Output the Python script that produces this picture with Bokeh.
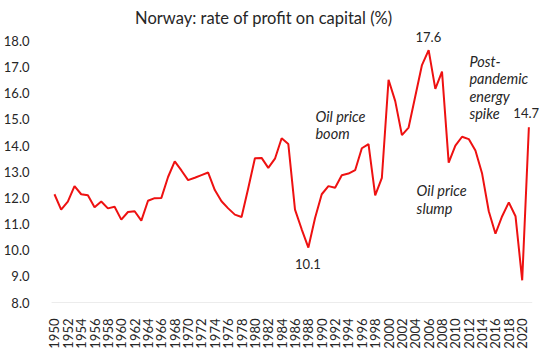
import math
from bokeh.plotting import figure
from bokeh.models import Range1d, FixedTicker, Label, PrintfTickFormatter
from bokeh.embed import file_html
from bokeh.resources import INLINE

years = list(range(1950, 2022))
profit_rate = [
    12.14, 11.55, 11.86, 12.45, 12.14, 12.10, 11.64, 11.86, 11.60, 11.66,
    11.17, 11.46, 11.49, 11.13, 11.89, 11.99, 12.00, 12.80, 13.40, 13.05,
    12.68, 12.77, 12.87, 12.97, 12.30, 11.87, 11.60, 11.36, 11.27, 12.37,
    13.52, 13.53, 13.15, 13.50, 14.28, 14.06, 11.55, 10.80, 10.10, 11.23,
    12.14, 12.45, 12.39, 12.87, 12.93, 13.06, 13.90, 14.06, 12.10, 12.77,
    16.52, 15.70, 14.40, 14.69, 15.89, 17.08, 17.65, 16.17, 16.83, 13.35,
    14.00, 14.34, 14.25, 13.81, 12.93, 11.49, 10.63, 11.30, 11.83, 11.30,
    8.85, 14.70,
]
x_tick_years = list(range(1950, 2021, 2))
y_tick_values = [8, 9, 10, 11, 12, 13, 14, 15, 16, 17, 18]
title_text = "Norway: rate of profit on capital (%)"
value_labels = ["10.1", "17.6", "14.7"]
comment_oil_boom = ["Oil price", "boom"]
comment_oil_slump = ["Oil price", "slump"]
comment_energy = ["Post-", "pandemic", "energy", "spike"]

FONT = "Lato"
TXT = "#262626"

p = figure(width=540, height=351, output_backend="svg", toolbar_location=None,
           x_range=Range1d(1949.556, 2022.74), y_range=Range1d(8, 19.55),
           min_border_left=46, min_border_right=0, min_border_top=0,
           min_border_bottom=45)

p.line(years, profit_rate, line_color="#EE1111", line_width=2)
# baseline axis line at 8.0, spanning the category area only
p.line([1949.5, 2021.5], [8, 8], line_color="#D9D9D9", line_width=1)

p.xgrid.visible = False
p.ygrid.visible = False
p.outline_line_color = None

xa = p.xaxis[0]
xa.ticker = FixedTicker(ticks=x_tick_years)
xa.major_label_orientation = math.pi / 2
xa.axis_line_color = None
xa.major_tick_line_color = None
xa.minor_tick_line_color = None
xa.major_label_standoff = 10
xa.major_label_text_font = FONT
xa.major_label_text_font_size = "13px"
xa.major_label_text_color = TXT

ya = p.yaxis[0]
ya.ticker = FixedTicker(ticks=y_tick_values)
ya.formatter = PrintfTickFormatter(format="%.1f")
ya.axis_line_color = None
ya.major_tick_line_color = None
ya.minor_tick_line_color = None
ya.major_label_standoff = 16
ya.major_label_text_font = FONT
ya.major_label_text_font_size = "13px"
ya.major_label_text_color = TXT


def add(x, y, text, align="left", italic=False, size="13px"):
    p.add_layout(Label(x=x, y=y, text=text, text_align=align, text_baseline="middle",
                       text_font=FONT, text_font_size=size,
                       text_font_style="italic" if italic else "normal",
                       text_color=TXT))


add(1981.33, 18.89, title_text, "center", size="16.5px")
add(1987.93, 9.47, value_labels[0], "center")
add(2005.96, 18.15, value_labels[1], "center")
add(2020.6, 15.23, value_labels[2], "center")
for t, y in zip(comment_oil_boom, [15.11, 14.48]):
    add(1989.06, y, t, italic=True, size="14.5px")
for t, y in zip(comment_oil_slump, [12.28, 11.58]):
    add(2004.2, y, t, italic=True, size="14.5px")
for t, y in zip(comment_energy, [17.23, 16.55, 15.89, 15.23]):
    add(2012.1, y, t, italic=True, size="14.5px")

open("out.html", "w").write(file_html(p, INLINE))
